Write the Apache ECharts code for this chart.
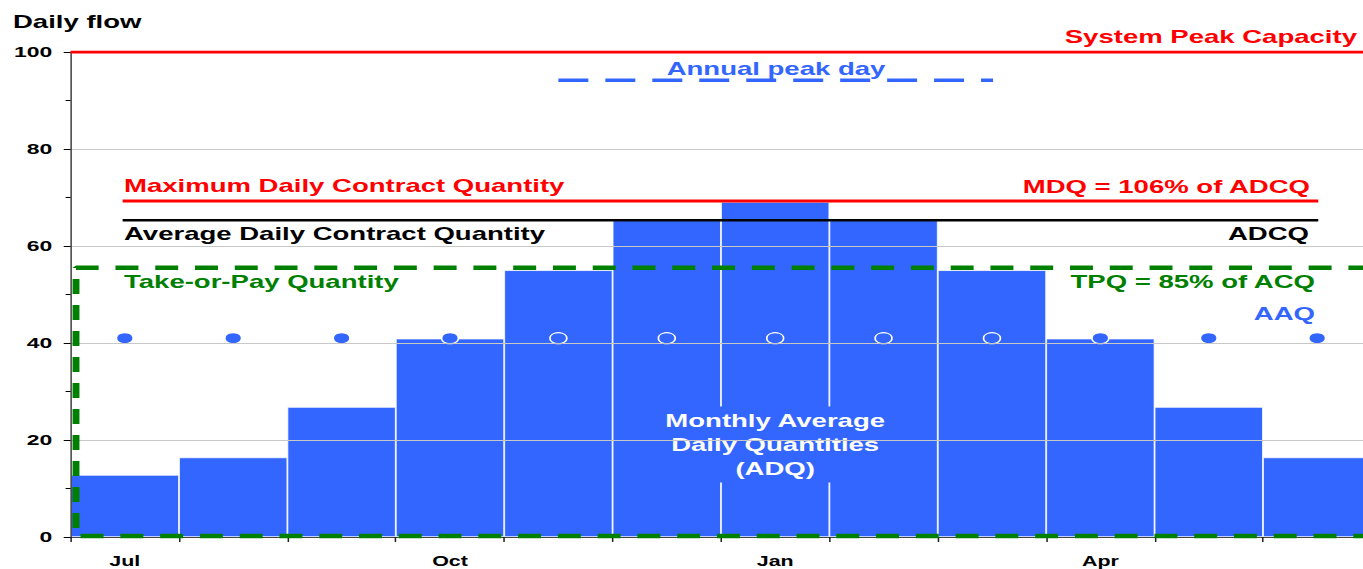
<!DOCTYPE html>
<html>
<head>
<meta charset="utf-8">
<script src="https://cdn.jsdelivr.net/npm/echarts@6/dist/echarts.min.js"></script>
<style>
  html, body { margin: 0; padding: 0; background: #fff; overflow: hidden; }
  /* the source picture is a horizontally stretched chart, so draw narrow and stretch;
     the box is a bit wider than the window because the last month is cut off */
  #main { width: 897px; height: 569px; transform: scaleX(1.5297); transform-origin: 0 0; }
</style>
</head>
<body>
<div id="main"></div>
<script>
// stretch factor used by the container transform
const S = 1363 / 891;
const W = 897;

// data
const months = ['Jul', 'Aug', 'Sep', 'Oct', 'Nov', 'Dec', 'Jan', 'Feb', 'Mar', 'Apr', 'May', 'Jun'];
const adq = [12.8, 16.4, 26.8, 40.9, 55, 65.3, 69.1, 65.3, 55, 40.9, 26.8, 16.4];
const aaq = [41, 41, 41, 41, 41, 41, 41, 41, 41, 41, 41, 41];
const systemPeak = 100;
const mdq = 69.3;
const adcq = 65.3;
const tpq = 55.5;
const peakDay = 94.2;
const mdqSpan = [0.48, 11.51];     // in month units
const peakSpan = [4.5, 8.51];
const tpqBox = [0.05, 0.2];        // left edge (months), bottom (flow)
const yMin = 0, yMax = 100, yStep = 20;

const FONT = '"Liberation Sans", Arial, sans-serif';
const BLUE = '#3366FF', RED = '#FF0000', GREEN = '#008000';

// convert a screen x (after stretch) into chart units
const ux = v => v / S;

function overlay(name, data, color, width, dash) {
  return {
    name: name,
    type: 'line',
    xAxisIndex: 1,
    data: data,
    symbol: 'none',
    silent: true,
    z: 6,
    lineStyle: { color: color, width: width, type: dash || 'solid', cap: 'butt' }
  };
}

function label(text, x, y, color, align) {
  return {
    type: 'text',
    x: x, y: y,
    z: 10,
    style: {
      text: text,
      fill: color,
      font: 'bold 18px ' + FONT,
      textAlign: align || 'left',
      textVerticalAlign: 'middle'
    }
  };
}

const chart = echarts.init(document.getElementById('main'), null, { renderer: 'svg' });

const option = {
  animation: false,
  grid: { left: ux(70.6), right: W - ux(1371.4), top: 52, bottom: 32, containLabel: false },
  xAxis: [{
    type: 'category',
    data: months,
    boundaryGap: true,
    z: 5,
    axisLine: { lineStyle: { color: '#444', width: 1 } },
    axisTick: { show: true, interval: 0, length: 5, lineStyle: { color: '#222' } },
    axisLabel: { interval: 2, margin: 17, color: '#000', fontSize: 14, fontWeight: 'bold', fontFamily: FONT },
    splitLine: { show: false }
  }, {
    type: 'value',
    min: 0, max: 12,
    show: false
  }],
  yAxis: {
    type: 'value',
    min: yMin, max: yMax, interval: yStep,
    z: 5,
    axisLine: { show: true, lineStyle: { color: '#444', width: 1 } },
    axisTick: { show: true, length: 4.5, lineStyle: { color: '#000' } },
    minorTick: { show: true, splitNumber: 2, length: 3.3, lineStyle: { color: '#000' } },
    axisLabel: { margin: 12, color: '#000', fontSize: 15, fontWeight: 'bold', fontFamily: FONT },
    splitLine: { show: true, lineStyle: { color: '#c8c8c8', width: 1 } }
  },
  series: [{
    name: 'ADQ',
    type: 'bar',
    data: adq.map((v, i) => i === 6 ? {
      value: v,
      label: {
        show: true,
        position: 'inside',
        offset: [0, 75],
        formatter: 'Monthly Average\nDaily Quantities\n(ADQ)',
        color: '#fff',
        fontSize: 18,
        fontWeight: 'bold',
        fontFamily: FONT,
        lineHeight: 24,
        backgroundColor: BLUE,
        padding: [2, 4]
      }
    } : v),
    barCategoryGap: '0%',
    z: 2,
    itemStyle: { color: BLUE, borderColor: '#fff', borderWidth: 0.6 }
  }, {
    name: 'AAQ',
    type: 'scatter',
    data: aaq,
    symbol: 'circle',
    symbolSize: 11,
    z: 4,
    silent: true,
    itemStyle: { color: BLUE, borderColor: '#fff', borderWidth: 1.1, opacity: 1 }
  },
  overlay('System Peak Capacity', [[0, systemPeak], [12, systemPeak]], RED, 3),
  overlay('MDQ', [[mdqSpan[0], mdq], [mdqSpan[1], mdq]], RED, 3),
  overlay('ADCQ', [[mdqSpan[0], adcq], [mdqSpan[1], adcq]], '#000', 2.5),
  overlay('TPQ', [[12, tpq], [tpqBox[0], tpq], [tpqBox[0], tpqBox[1]], [12, tpqBox[1]]], GREEN, 4.5, [15, 11]),
  overlay('Annual peak day', [[peakSpan[0], peakDay], [peakSpan[1], peakDay]], BLUE, 3.5, [19.6, 11.1])
  ],
  graphic: [
    label('Daily flow', ux(13), 22, '#000'),
    label('System Peak Capacity', ux(1357), 37, RED, 'right'),
    label('Annual peak day', ux(776), 69, BLUE, 'center'),
    label('Maximum Daily Contract Quantity', ux(124), 186, RED),
    label('MDQ = 106% of ADCQ', ux(1310), 187, RED, 'right'),
    label('Average Daily Contract Quantity', ux(124), 234, '#000'),
    label('ADCQ', ux(1309), 234, '#000', 'right'),
    label('Take-or-Pay Quantity', ux(124), 282, GREEN),
    label('TPQ = 85% of ACQ', ux(1315), 282, GREEN, 'right'),
    label('AAQ', ux(1315), 314, BLUE, 'right')
  ]
};

chart.setOption(option);
</script>
</body>
</html>
